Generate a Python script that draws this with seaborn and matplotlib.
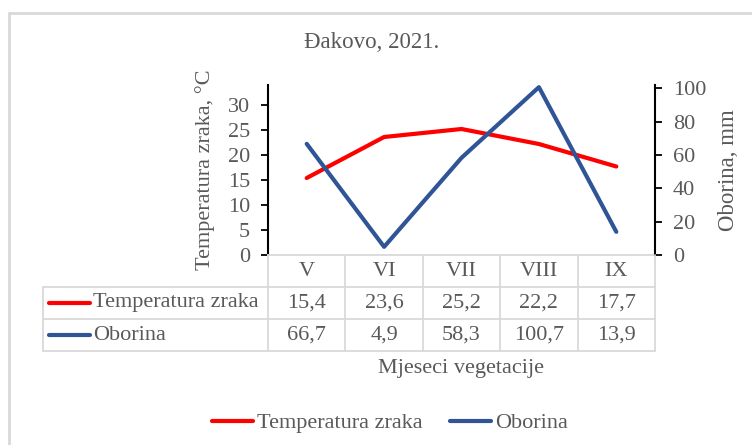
import pandas as pd
import matplotlib.pyplot as plt
import matplotlib.transforms as mtransforms
from matplotlib.lines import Line2D
import seaborn as sns

# podaci
mjeseci = ["V", "VI", "VII", "VIII", "IX"]
temperatura = [15.4, 23.6, 25.2, 22.2, 17.7]
oborina = [66.7, 4.9, 58.3, 100.7, 13.9]
temp_label = "Temperatura zraka"
obor_label = "Oborina"

sns.set_theme(style="white")
plt.rcParams['font.family'] = ['Liberation Serif', 'DejaVu Serif']

GRAY = "#595959"
LINE = "#D9D9D9"
RED = "#FF0000"
BLUE = "#2F5597"
FS = 16

W, H = 752, 445
fig = plt.figure(figsize=(W / 100, H / 100), dpi=100)


def fx(px):
    return px / W


def fy(py):
    return 1 - py / H


ax = fig.add_axes([fx(268), fy(255), fx(655) - fx(268), fy(85) - fy(255)])
ax2 = ax.twinx()

df = pd.DataFrame({"mjesec": mjeseci, "temp": temperatura, "obor": oborina})
sns.lineplot(data=df, x="mjesec", y="temp", ax=ax, color=RED, linewidth=3, sort=False)
sns.lineplot(data=df, x="mjesec", y="obor", ax=ax2, color=BLUE, linewidth=3, sort=False)

ax.set_xlim(-0.5, len(mjeseci) - 0.5)
ax.set_ylim(0, 34)
ax2.set_ylim(0, 102)
ax.set_yticks(range(0, 31, 5))
ax2.set_yticks(range(0, 101, 20))
ax.set_xticks([])
ax.set_xlabel("")
ax2.set_xlabel("")
ax.set_ylabel("Temperatura zraka, °C", color=GRAY, fontsize=FS, labelpad=9)
ax2.set_ylabel("Oborina, mm", color=GRAY, fontsize=FS + 0.5, labelpad=8)

for a in (ax, ax2):
    for s in a.spines.values():
        s.set_visible(False)
    a.tick_params(axis='y', colors=GRAY, labelsize=FS, length=5, width=1.3,
                  direction='out', pad=8)
    a.grid(False)
ax.spines['left'].set_visible(True)
ax.spines['left'].set_color('black')
ax.spines['left'].set_linewidth(1.5)
ax2.spines['right'].set_visible(True)
ax2.spines['right'].set_color('black')
ax2.spines['right'].set_linewidth(1.5)
ax.tick_params(axis='y', color='black')
ax2.tick_params(axis='y', color='black')
ax.spines['bottom'].set_visible(True)
ax.spines['bottom'].set_color(LINE)
ax.spines['bottom'].set_linewidth(1.3)

# tablica podataka ispod grafa
blend = mtransforms.blended_transform_factory(ax.transData, fig.transFigure)
rows_y = [255, 287, 319, 351]
x_left = 43
col_edges = [fx(268)] + [
    fig.transFigure.inverted().transform(ax.transData.transform((i + 0.5, 0)))[0]
    for i in range(len(mjeseci))
]
lw = 1.3
for ry in rows_y[1:]:
    fig.add_artist(Line2D([fx(x_left), fx(655)], [fy(ry)] * 2, color=LINE, lw=lw))
fig.add_artist(Line2D([fx(x_left)] * 2, [fy(rows_y[1]), fy(rows_y[3])], color=LINE, lw=lw))
for xe in col_edges:
    fig.add_artist(Line2D([xe] * 2, [fy(rows_y[0]), fy(rows_y[3])], color=LINE, lw=lw))

row_c = [(rows_y[i] + rows_y[i + 1]) / 2 for i in range(3)]
for i, m in enumerate(mjeseci):
    fig.text(i, fy(row_c[0]), m, transform=blend, ha='center', va='center', color=GRAY, fontsize=FS)
    fig.text(i, fy(row_c[1]), f"{temperatura[i]:.1f}".replace('.', ','), transform=blend,
             ha='center', va='center', color=GRAY, fontsize=FS)
    fig.text(i, fy(row_c[2]), f"{oborina[i]:.1f}".replace('.', ','), transform=blend,
             ha='center', va='center', color=GRAY, fontsize=FS)

for yc, col, lab in [(row_c[1], RED, temp_label), (row_c[2], BLUE, obor_label)]:
    fig.add_artist(Line2D([fx(49), fx(90)], [fy(yc)] * 2, color=col, lw=3))
    fig.text(fx(93), fy(yc), lab, ha='left', va='center', color=GRAY, fontsize=FS)

fig.text(fx(461), fy(368), "Mjeseci vegetacije", ha='center', va='center', color=GRAY, fontsize=FS)
fig.text(fx(372), fy(43), "Đakovo, 2021.", ha='center', va='center', color=GRAY, fontsize=FS + 0.5)

# legenda
handles = [Line2D([], [], color=RED, lw=3), Line2D([], [], color=BLUE, lw=3)]
fig.legend(handles, [temp_label, obor_label], loc='center', bbox_to_anchor=(fx(390), fy(423)),
           ncol=2, frameon=False, fontsize=FS, labelcolor=GRAY, handlelength=1.85,
           handletextpad=0.2, columnspacing=1.2)

# okvir
fig.add_artist(Line2D([fx(8.5), fx(8.5)], [0, fy(13)], color=LINE, lw=2))
fig.add_artist(Line2D([fx(8.5), 1], [fy(13), fy(13)], color=LINE, lw=2))

fig.savefig("out.png", dpi=100)
